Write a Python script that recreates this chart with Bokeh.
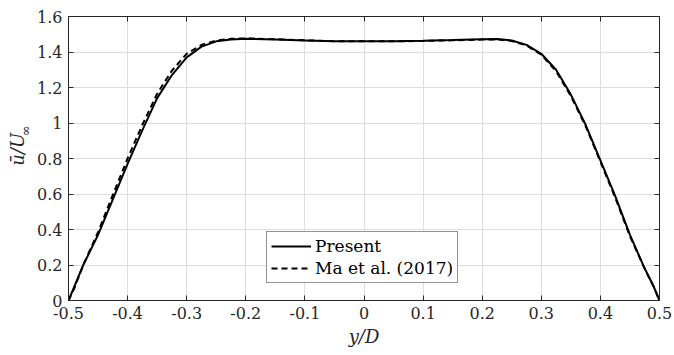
import math
from bokeh.plotting import figure
from bokeh.layouts import row
from bokeh.models import Range1d, FixedTicker, LinearAxis, Legend, LegendItem
from bokeh.core.properties import value
from bokeh.embed import file_html
from bokeh.resources import INLINE

# data
y_present = [-0.5, -0.49, -0.475, -0.45, -0.425, -0.4, -0.375, -0.35, -0.325, -0.3, -0.275, -0.25,
             -0.225, -0.2, -0.15, -0.1, -0.05, 0.0, 0.05, 0.1, 0.15, 0.2, 0.225, 0.25, 0.275, 0.3,
             0.325, 0.35, 0.375, 0.4, 0.425, 0.45, 0.475, 0.49, 0.5]
u_present = [0.0, 0.08, 0.20, 0.37, 0.57, 0.77, 0.96, 1.14, 1.27, 1.37, 1.43, 1.46,
             1.47, 1.475, 1.47, 1.465, 1.46, 1.46, 1.46, 1.463, 1.467, 1.472, 1.473, 1.465, 1.44, 1.39,
             1.30, 1.16, 0.99, 0.79, 0.59, 0.37, 0.18, 0.08, 0.0]
y_ma = [-0.5, -0.49, -0.475, -0.45, -0.425, -0.4, -0.375, -0.35, -0.325, -0.3, -0.275, -0.25,
        -0.225, -0.2, -0.15, -0.1, -0.05, 0.0, 0.05, 0.1, 0.15, 0.2, 0.225, 0.25, 0.275, 0.3,
        0.325, 0.35, 0.375, 0.4, 0.425, 0.45, 0.475, 0.49, 0.5]
u_ma = [0.0, 0.07, 0.20, 0.385, 0.595, 0.80, 0.99, 1.165, 1.295, 1.39, 1.44, 1.465,
        1.474, 1.477, 1.472, 1.466, 1.461, 1.46, 1.46, 1.462, 1.466, 1.47, 1.471, 1.462, 1.437, 1.385,
        1.292, 1.152, 0.982, 0.782, 0.58, 0.362, 0.178, 0.078, 0.0]

x_ticks = [-0.5, -0.4, -0.3, -0.2, -0.1, 0.0, 0.1, 0.2, 0.3, 0.4, 0.5]
x_tick_labels = ["-0.5", "-0.4", "-0.3", "-0.2", "-0.1", "0", "0.1", "0.2", "0.3", "0.4", "0.5"]
y_ticks = [0.0, 0.2, 0.4, 0.6, 0.8, 1.0, 1.2, 1.4, 1.6]
y_tick_labels = ["0", "0.2", "0.4", "0.6", "0.8", "1", "1.2", "1.4", "1.6"]

series_names = ["Present", "Ma et al. (2017)"]
y_label_main = "\u016b/U"
y_label_sub = "\u221e"
x_label = "y/D"

FONT = "DejaVu Serif"
AX = "#262626"
LW = 34  # width of the strip holding the y-axis label

# strip with the rotated y-axis label
lab = figure(width=LW, height=355, output_backend="svg", toolbar_location=None,
             x_range=Range1d(0, LW), y_range=Range1d(0, 355),
             x_axis_type=None, y_axis_type=None, min_border=0)
lab.outline_line_color = None
lab.grid.visible = False
lab.text(x=[17], y=[355 - 166], text=[y_label_main], angle=math.pi / 2,
         text_font=value(FONT), text_font_style="italic", text_font_size="18px",
         text_align="center", text_baseline="middle", text_color=AX)
lab.text(x=[25], y=[355 - 143], text=[y_label_sub], angle=math.pi / 2,
         text_font=value(FONT), text_font_size="13px",
         text_align="center", text_baseline="middle", text_color=AX)

p = figure(width=674 - LW, height=355, output_backend="svg", toolbar_location=None,
           x_range=Range1d(-0.5, 0.5), y_range=Range1d(0, 1.6),
           min_border_left=68 - LW, min_border_right=15, min_border_top=16, min_border_bottom=55)
p.background_fill_color = "white"
p.border_fill_color = "white"
p.outline_line_color = AX
p.outline_line_width = 1

l1 = p.line(y_present, u_present, line_color="black", line_width=2)
l2 = p.line(y_ma, u_ma, line_color="black", line_width=2, line_dash="6 4")

for ax, ticks, labels in ((p.xaxis[0], x_ticks, x_tick_labels), (p.yaxis[0], y_ticks, y_tick_labels)):
    ax.ticker = FixedTicker(ticks=ticks)
    ax.major_label_overrides = {t: s for t, s in zip(ticks, labels)}
    ax.minor_tick_line_color = None
    ax.major_tick_in = 5
    ax.major_tick_out = 0
    ax.major_tick_line_color = AX
    ax.axis_line_color = AX
    ax.major_label_text_font = FONT
    ax.major_label_text_font_size = "16px"
    ax.major_label_text_color = AX

p.xaxis[0].major_label_standoff = 6
p.yaxis[0].major_label_standoff = 6
p.xaxis[0].axis_label = x_label
p.xaxis[0].axis_label_text_font = FONT
p.xaxis[0].axis_label_text_font_style = "italic"
p.xaxis[0].axis_label_text_font_size = "18px"
p.xaxis[0].axis_label_text_color = AX
p.xaxis[0].axis_label_standoff = 4

for loc, ticks in (("above", x_ticks), ("right", y_ticks)):
    a = LinearAxis(ticker=FixedTicker(ticks=ticks), major_label_overrides={t: "" for t in ticks},
                   major_tick_in=5, major_tick_out=0, minor_tick_line_color=None,
                   major_tick_line_color=AX, axis_line_color=AX, major_label_standoff=0)
    p.add_layout(a, loc)

p.xgrid.ticker = FixedTicker(ticks=x_ticks)
p.ygrid.ticker = FixedTicker(ticks=y_ticks)
p.grid.grid_line_color = "#dedede"
p.grid.grid_line_width = 1

legend = Legend(items=[LegendItem(label=series_names[0], renderers=[l1]),
                       LegendItem(label=series_names[1], renderers=[l2])],
                location=(198, 17))
legend.label_text_font = FONT
legend.label_text_font_size = "17px"
legend.label_text_color = "black"
legend.glyph_width = 40
legend.glyph_height = 20
legend.label_height = 20
legend.label_standoff = 4
legend.padding = 4
legend.margin = 0
legend.spacing = 2
legend.border_line_color = AX
legend.border_line_width = 1
legend.background_fill_alpha = 1
p.add_layout(legend, "center")

layout = row(lab, p, spacing=0)
open("out.html", "w").write(file_html(layout, INLINE))
